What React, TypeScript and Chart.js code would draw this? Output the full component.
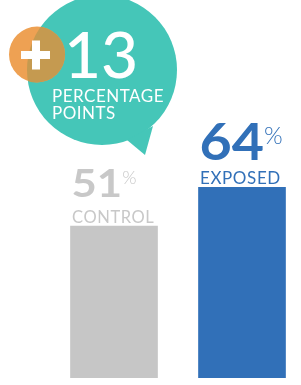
import React, { useEffect, useRef } from "react";
import { Chart, registerables } from "chart.js";

Chart.register(...registerables);

const categories = ["CONTROL", "EXPOSED"];
const values = [51, 64];
const barColors = ["#C6C6C6", "#3170B8"];
const textColors = ["#C8C8C8", "#3170B8"];
const numberFontSizes = [39, 51];
const bubbleLine1 = "PERCENTAGE";
const bubbleLine2 = "POINTS";

const FONT = "Lato, 'Open Sans', sans-serif";
const TEAL = "#45C6B8";
const ORANGE = "#EEA153";
const OVERLAP = "#C59A50";

const decoPlugin = {
  id: "deco",
  afterDatasetsDraw(chart: any) {
    const ctx = chart.ctx as any;
    const meta = chart.getDatasetMeta(0);
    ctx.save();
    meta.data.forEach((el: any, i: number) => {
      const left = el.x - el.width / 2;
      const top = el.y;
      const size = numberFontSizes[i];
      const big = size >= 45;
      ctx.fillStyle = textColors[i];
      ctx.textBaseline = "alphabetic";
      ctx.textAlign = "left";
      // category label
      ctx.letterSpacing = "0.6px";
      ctx.font = `400 ${big ? 17 : 16.5}px ${FONT}`;
      ctx.fillText(categories[i], left + 1.5, top - 3);
      ctx.letterSpacing = "0px";
      // number (slightly widened)
      const numBase = top - (big ? 27 : 29);
      const sx = big ? 1.09 : 1.12;
      ctx.font = `700 ${size}px ${FONT}`;
      const txt = String(values[i]);
      const x0 = left + 1;
      ctx.save();
      ctx.translate(x0, numBase);
      ctx.scale(sx, 1);
      ctx.fillText(txt, 0, 0);
      ctx.restore();
      const w = ctx.measureText(txt).width * sx;
      const numTop = numBase - size * 0.72;
      const pSize = size * 0.47;
      ctx.font = `300 ${pSize}px ${FONT}`;
      ctx.fillText("%", x0 + w, numTop + size * 0.06 + pSize * 0.72);
    });

    // bubble
    const cx = 102, cy = 70, r = 75;
    ctx.fillStyle = TEAL;
    ctx.beginPath();
    ctx.arc(cx, cy, r, 0, Math.PI * 2);
    ctx.fill();
    ctx.beginPath();
    ctx.moveTo(127, 140);
    ctx.lineTo(153, 126);
    ctx.lineTo(145, 155);
    ctx.closePath();
    ctx.fill();

    // orange circle
    const ox = 37, oy = 54.5, or = 28;
    ctx.fillStyle = ORANGE;
    ctx.beginPath();
    ctx.arc(ox, oy, or, 0, Math.PI * 2);
    ctx.fill();
    ctx.save();
    ctx.beginPath();
    ctx.arc(cx, cy, r, 0, Math.PI * 2);
    ctx.clip();
    ctx.fillStyle = OVERLAP;
    ctx.beginPath();
    ctx.arc(ox, oy, or, 0, Math.PI * 2);
    ctx.fill();
    ctx.restore();

    // plus
    ctx.fillStyle = "#FFFFFF";
    ctx.fillRect(21, 51, 29, 8);
    ctx.fillRect(32, 40.5, 8, 29);

    // difference text
    const diff = values[1] - values[0];
    ctx.letterSpacing = "0px";
    ctx.font = `500 64px ${FONT}`;
    ctx.fillText(String(diff), 64, 78);
    ctx.letterSpacing = "0.5px";
    ctx.font = `400 17px ${FONT}`;
    ctx.fillText(bubbleLine1, 52, 102);
    ctx.fillText(bubbleLine2, 52, 119);
    ctx.letterSpacing = "0px";
    ctx.restore();
  },
};

export default function App() {
  const ref = useRef<HTMLCanvasElement>(null);
  useEffect(() => {
    if (!ref.current) return;
    const chart = new Chart(ref.current, {
      type: "bar",
      data: {
        labels: categories,
        datasets: [
          {
            data: values,
            backgroundColor: barColors,
            borderWidth: 0,
            barThickness: 87,
          },
        ],
      },
      options: {
        responsive: false,
        animation: false,
        layout: { padding: { left: 50, right: 0, top: 80, bottom: 7 } },
        plugins: { legend: { display: false }, tooltip: { enabled: false } },
        scales: {
          x: { display: false },
          y: { display: false, min: 0, max: 100 },
        },
      },
      plugins: [decoPlugin],
    });
    return () => chart.destroy();
  }, []);
  return (
    <div
      style={{
        position: "fixed",
        left: 0,
        top: 0,
        width: 301,
        height: 385,
        overflow: "hidden",
        background: "#fff",
      }}
    >
      <canvas ref={ref} width={306} height={385} style={{ display: "block" }} />
    </div>
  );
}
